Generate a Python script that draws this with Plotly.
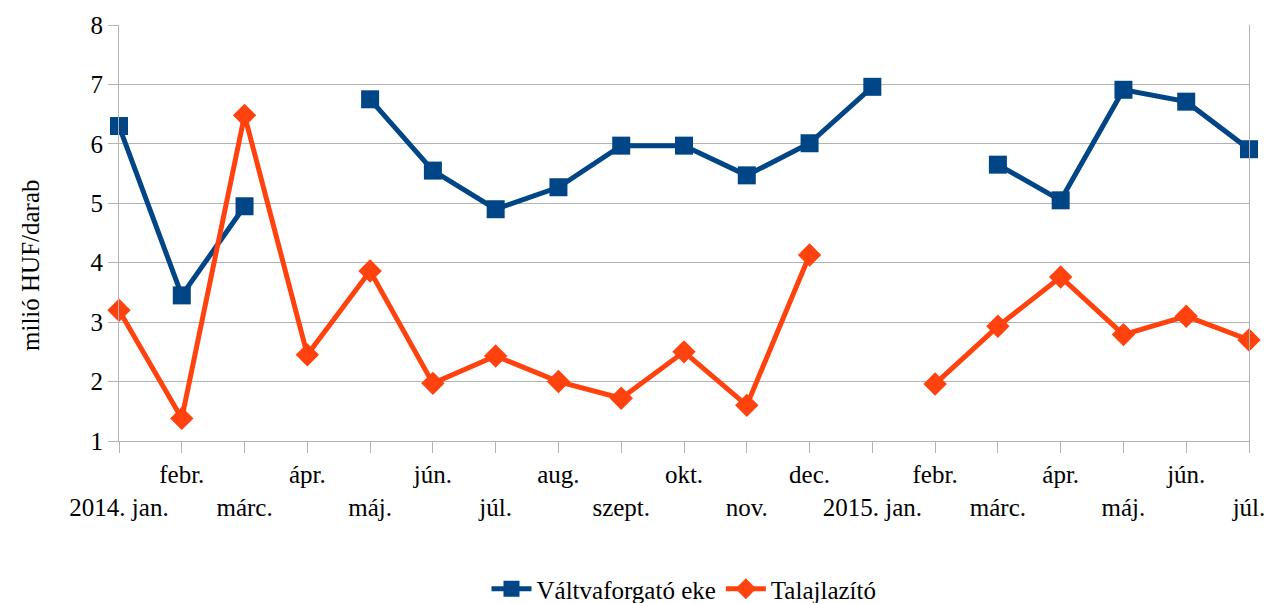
import plotly.graph_objects as go

months = ["2014. jan.", "febr.", "márc.", "ápr.", "máj.", "jún.", "júl.", "aug.", "szept.", "okt.",
          "nov.", "dec.", "2015. jan.", "febr.", "márc.", "ápr.", "máj.", "jún.", "júl."]
valtvaforgato = [6.30, 3.45, 4.95, None, 6.75, 5.55, 4.90, 5.27, 5.97, 5.97,
                 5.47, 6.01, 6.96, None, 5.65, 5.05, 6.91, 6.71, 5.91]
talajlazito = [3.20, 1.38, 6.48, 2.45, 3.86, 1.97, 2.43, 2.00, 1.72, 2.50,
               1.60, 4.13, None, 1.96, 2.93, 3.76, 2.79, 3.10, 2.70]

x = list(range(len(months)))
ticktext = [("<br>" + m if i % 2 == 0 else m) for i, m in enumerate(months)]

BLUE = "#004586"
ORANGE = "#ff420e"
GRID = "#b3b3b3"
FONT = "'Liberation Serif', 'Times New Roman', serif"
FS = 25

fig = go.Figure()
fig.add_trace(go.Scatter(x=x, y=valtvaforgato, name="Váltvaforgató eke", mode="lines+markers",
                         line=dict(color=BLUE, width=5), marker=dict(symbol="square", size=18, color=BLUE),
                         connectgaps=False, cliponaxis=False))
fig.add_trace(go.Scatter(x=x, y=talajlazito, name="Talajlazító", mode="lines+markers",
                         line=dict(color=ORANGE, width=5), marker=dict(symbol="diamond", size=18, color=ORANGE),
                         connectgaps=False, cliponaxis=False))

W, H = 1272, 603
ML, MR, MT, MB = 119, 23, 25, 162
fig.update_layout(
    width=W, height=H,
    margin=dict(l=ML, r=MR, t=MT, b=MB, autoexpand=False),
    paper_bgcolor="white", plot_bgcolor="white",
    font=dict(family=FONT, size=FS, color="black"),
    showlegend=True,
    legend=dict(orientation="h", x=0.5, xanchor="center", y=(441 - 566) / (441 - 25), yanchor="top",
                font=dict(family=FONT, size=FS), itemwidth=40, tracegroupgap=0),
    xaxis=dict(range=[0, 18], tickmode="array", tickvals=x, ticktext=ticktext,
               showgrid=False, zeroline=False, showline=True, linecolor=GRID, linewidth=1,
               ticks="outside", ticklen=11, tickcolor=GRID, tickangle=0, automargin=False,
               tickfont=dict(family=FONT, size=FS)),
    yaxis=dict(range=[1, 8], dtick=1, showgrid=True, gridcolor=GRID, gridwidth=1, zeroline=False,
               showline=True, linecolor=GRID, linewidth=1, mirror=True, automargin=False,
               ticks="outside", ticklen=10, tickcolor=GRID,
               tickfont=dict(family=FONT, size=FS)),
    annotations=[dict(text="milió HUF/darab", textangle=-90,
                      x=(30 - ML) / (W - ML - MR), xref="paper",
                      y=(441 - 265) / (441 - 25), yref="paper",
                      xanchor="center", yanchor="middle",
                      showarrow=False, font=dict(family=FONT, size=FS))],
)

fig.write_html("out.html", config={"displayModeBar": False},
               post_script="document.body.style.margin='0';document.body.style.overflow='hidden';")
